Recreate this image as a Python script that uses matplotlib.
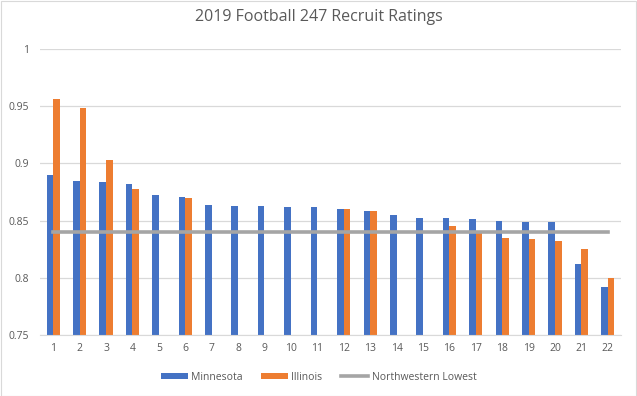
import matplotlib
matplotlib.use('Agg')
import matplotlib.pyplot as plt
import numpy as np
from matplotlib.patches import Rectangle

# recruit ratings
recruit = [str(i) for i in range(1, 23)]
minnesota = [0.890, 0.885, 0.884, 0.882, 0.872, 0.871, 0.864, 0.863, 0.863, 0.862, 0.862,
             0.860, 0.858, 0.855, 0.852, 0.852, 0.851, 0.850, 0.849, 0.849, 0.812, 0.792]
illinois = [0.956, 0.948, 0.903, 0.878, np.nan, 0.870, np.nan, np.nan, np.nan, np.nan, np.nan,
            0.860, 0.858, np.nan, np.nan, 0.845, 0.839, 0.835, 0.834, 0.832, 0.825, 0.800]
nw_lowest = [0.840] * 22
yticks = [0.75, 0.8, 0.85, 0.9, 0.95, 1.0]
ylabels = ['0.75', '0.8', '0.85', '0.9', '0.95', '1']

plt.rcParams['font.family'] = ['Open Sans', 'DejaVu Sans']
txt = '#595959'

fig = plt.figure(figsize=(6.37, 3.96), dpi=100)
ax = fig.add_axes([40 / 637, 1 - 335 / 396, 581 / 637, 286 / 396])

x = np.arange(len(recruit))
w = 0.25
b1 = ax.bar(x - w / 2, minnesota, w, color='#4472c4', label='Minnesota', zorder=2)
b2 = ax.bar(x + w / 2, illinois, w, color='#ed7d31', label='Illinois', zorder=2)
l1, = ax.plot(x, nw_lowest, color='#a5a5a5', lw=2.6, label='Northwestern Lowest', zorder=3)

ax.set_xlim(-0.5, len(recruit) - 0.5)
ax.set_ylim(0.75, 1.0)
ax.set_yticks(yticks)
ax.set_yticklabels(ylabels)
ax.set_xticks(x)
ax.set_xticklabels(recruit)
ax.tick_params(length=0, labelsize=7.5, colors=txt)
ax.tick_params(axis='y', pad=8)
ax.tick_params(axis='x', pad=6)
ax.grid(axis='y', color='#d9d9d9', lw=0.9, zorder=0)
for s in ['top', 'right', 'left']:
    ax.spines[s].set_visible(False)
ax.spines['bottom'].set_color('#d9d9d9')

fig.text(0.5, 1 - 17 / 396, '2019 Football 247 Recruit Ratings', ha='center', va='center',
         fontsize=11.5, color=txt)
fig.legend([b1, b2, l1], ['Minnesota', 'Illinois', 'Northwestern Lowest'],
           loc='center', bbox_to_anchor=(0.5, 1 - 377 / 396), ncol=3, frameon=False,
           fontsize=7.5, labelcolor=txt, handlelength=2.6, handleheight=0.5, columnspacing=1.8,
           handletextpad=0.3)

fig.patches.append(Rectangle((0.5 / 637, 0.5 / 396), 1 - 1.5 / 637, 1 - 1.5 / 396,
                             transform=fig.transFigure, fill=False, ec='#d9d9d9', lw=0.8))

fig.savefig('out.png', dpi=100)
